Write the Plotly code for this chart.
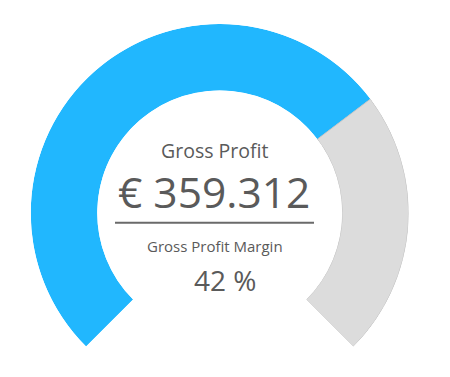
import plotly.graph_objects as go

# Data
gauge_labels = ["Achieved", "Remaining"]
gauge_max = 100
gauge_value = 69.6          # share of the gauge arc filled (blue)
title_text = "Gross Profit"
value_text = "€ 359.312"
sub_title_text = "Gross Profit Margin"
margin_value = 42           # %

W, H = 450, 377
OFF = 8                     # page body offset
SPAN = 270.0                # gauge sweep in degrees

blue = "#21b7fe"
gray = "#dcdcdc"
text_col = "#5a5a5a"

vals = [gauge_value, gauge_max - gauge_value]
widths = [v / gauge_max * SPAN for v in vals]
centers = [widths[0] / 2, widths[0] + widths[1] / 2]

def px(x):
    return (x - OFF) / W

def py(y):
    return 1 - (y - OFF) / H

fig = go.Figure()
fig.add_trace(go.Barpolar(
    r=[1, 1],
    theta=centers,
    width=widths,
    marker=dict(color=[blue, gray], line=dict(color=[blue, "#c4c4c4"], width=[0, 1])),
    hoverinfo="skip",
    showlegend=False,
    text=gauge_labels,
))

fig.update_layout(
    width=W, height=H,
    margin=dict(l=0, r=0, t=0, b=0),
    paper_bgcolor="white",
    plot_bgcolor="white",
    polar=dict(
        domain=dict(x=[px(30.7), px(408.7)], y=[py(346.6), py(24)]),
        sector=[-45, 225],
        hole=0.648,
        bgcolor="white",
        angularaxis=dict(visible=False, direction="clockwise", rotation=225,
                         thetaunit="degrees", showgrid=False),
        radialaxis=dict(visible=False, range=[0, 1], showgrid=False),
        bargap=0,
    ),
    font=dict(family="Open Sans, Lato, Arial", color=text_col),
)

def ann(text, x, y, size):
    fig.add_annotation(text=text, x=px(x), y=py(y), xref="paper", yref="paper",
                       showarrow=False, font=dict(size=size, color=text_col),
                       xanchor="center", yanchor="middle", borderpad=0)

ann(title_text, 214.5, 150.5, 19.5)
ann(value_text, 213.5, 192, 42.5)
ann(sub_title_text, 214.5, 245.5, 15)
ann(f"{margin_value} %", 225, 279.5, 28)

fig.add_shape(type="line", xref="paper", yref="paper",
              x0=px(115), x1=px(314), y0=py(222.7), y1=py(222.7),
              line=dict(color="#6a6a6a", width=2))

fig.write_html("out.html")
